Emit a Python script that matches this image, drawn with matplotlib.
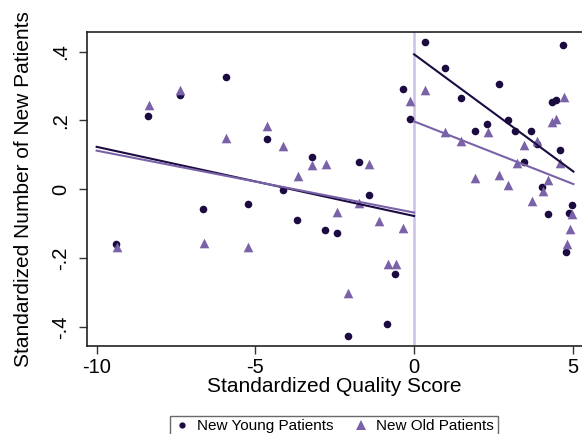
import numpy as np
import matplotlib
matplotlib.use("Agg")
import matplotlib.pyplot as plt
from matplotlib.lines import Line2D

plt.rcParams['font.family'] = ['Liberation Sans', 'DejaVu Sans']

# Standardized quality score vs. standardized number of new patients
young_x = [-9.39, -8.37, -7.39, -5.92, -4.64, -3.23, -6.64, -5.22, -4.14, -3.68,
           -2.80, -2.43, -1.43, -0.59, -0.84, -2.07, -1.73, -0.36, -0.13,
           0.34, 0.98, 1.48, 2.66, 4.70, 4.34, 4.47, 1.92, 2.30, 2.95, 3.19,
           3.67, 3.86, 4.60, 3.45, 4.04, 4.99, 4.21, 4.87, 4.80]
young_y = [-0.160, 0.212, 0.273, 0.326, 0.146, 0.093, -0.059, -0.042, -0.001, -0.091,
           -0.119, -0.126, -0.016, -0.247, -0.391, -0.426, 0.078, 0.292, 0.203,
           0.428, 0.352, 0.265, 0.305, 0.418, 0.253, 0.258, 0.169, 0.189, 0.201, 0.170,
           0.169, 0.131, 0.114, 0.078, 0.006, -0.047, -0.072, -0.070, -0.183]

old_x = [-9.37, -6.61, -8.35, -7.38, -5.92, -4.63, -4.13, -3.65, -3.22, -2.79,
         -5.22, -2.43, -1.73, -1.10, -0.35, -0.82, -0.57, -2.07, -1.43, -0.12,
         0.35, 0.98, 1.49, 2.32, 1.93, 2.66, 2.96, 3.23, 3.46, 3.87,
         4.23, 4.61, 4.36, 4.48, 4.71, 4.05, 3.70, 4.99, 4.90, 4.82]
old_y = [-0.167, -0.156, 0.246, 0.289, 0.148, 0.183, 0.125, 0.039, 0.069, 0.072,
         -0.169, -0.067, -0.040, -0.092, -0.113, -0.217, -0.217, -0.302, 0.072, 0.257,
         0.289, 0.165, 0.139, 0.165, 0.033, 0.040, 0.012, 0.077, 0.127, 0.140,
         0.028, 0.077, 0.194, 0.203, 0.268, -0.004, -0.035, -0.072, -0.115, -0.158]

# Linear fits on each side of the cutoff: (slope, intercept)
fit_range_left = [-10.0, 0.0]
fit_range_right = [0.0, 5.02]
young_fit_left = [-0.0201, -0.078]
old_fit_left = [-0.0180, -0.068]
young_fit_right = [-0.0679, 0.392]
old_fit_right = [-0.0363, 0.197]

x_ticks = [-10, -5, 0, 5]
x_ticklabels = ['-10', '-5', '0', '5']
y_ticks = [-0.4, -0.2, 0.0, 0.2, 0.4]
y_ticklabels = ['-.4', '-.2', '0', '.2', '.4']

c_young = '#1b0b40'
c_old = '#7a62a8'
c_cut = '#cbc1e4'

fig = plt.figure(figsize=(5.82, 4.34), dpi=100)
ax = fig.add_axes([86.5 / 582, (434 - 345.7) / 434, (582 - 86.5) / 582, (345.7 - 32.3) / 434])

ax.axvline(0, color=c_cut, lw=1.8, zorder=1)

ax.scatter(young_x, young_y, s=30, marker='o', color=c_young, linewidths=0, zorder=3)
ax.scatter(old_x, old_y, s=48, marker='^', color=c_old, linewidths=0, zorder=4)

for rng, fy, fo in [(fit_range_left, young_fit_left, old_fit_left),
                    (fit_range_right, young_fit_right, old_fit_right)]:
    xs = np.array(rng)
    ax.plot(xs, np.polyval(fy, xs), color=c_young, lw=1.5, zorder=5)
    ax.plot(xs, np.polyval(fo, xs), color=c_old, lw=1.5, zorder=5)

ax.set_xlim(-10.32, 5.29)
ax.set_ylim(-0.455, 0.456)

ax.set_xticks(x_ticks)
ax.set_xticklabels(x_ticklabels)
ax.set_yticks(y_ticks)
ax.set_yticklabels(y_ticklabels, rotation=90, va='center')
ax.tick_params(axis='both', labelsize=14.5, length=5.5, width=1, color='#333333')
ax.tick_params(axis='x', pad=3)
ax.tick_params(axis='y', pad=6)

for side in ['left', 'bottom', 'top']:
    ax.spines[side].set_color('#222222')
    ax.spines[side].set_linewidth(1.2)
ax.spines['right'].set_visible(False)

ax.set_xlabel('Standardized Quality Score', fontsize=15, labelpad=0)
ax.set_ylabel('Standardized Number of New Patients', fontsize=15, labelpad=13)

handles = [
    Line2D([], [], marker='o', ls='none', color=c_young, markersize=4.5, markeredgewidth=0),
    Line2D([], [], marker='^', ls='none', color=c_old, markersize=6.5, markeredgewidth=0),
]
leg = fig.legend(handles, ['New Young Patients', 'New Old Patients'],
                 loc='upper center', bbox_to_anchor=(334 / 582, 1 - 408 / 434),
                 ncol=2, fontsize=11, frameon=True, fancybox=False,
                 edgecolor='#444444', handlelength=1.0, handletextpad=0.5,
                 columnspacing=1.3, borderpad=0.25)
leg.get_frame().set_linewidth(1.0)

fig.savefig('out.png', dpi=100)
